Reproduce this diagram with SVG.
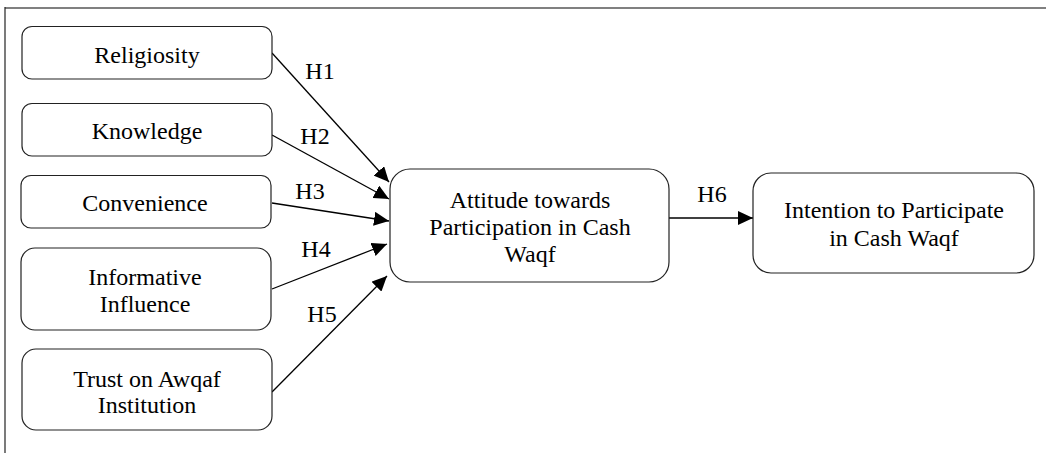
<svg xmlns="http://www.w3.org/2000/svg" width="1046" height="453" viewBox="0 0 1046 453">
<style>
.box{fill:#fff;stroke:#222;stroke-width:1.2}
.t{font-family:"Liberation Serif","Times New Roman",serif;font-size:24px;fill:#000;text-anchor:middle}
.c{stroke:#000;stroke-width:1.3;fill:none;marker-end:url(#ah)}
</style>
<defs>
<marker id="ah" markerUnits="userSpaceOnUse" markerWidth="16" markerHeight="14" refX="15" refY="7" orient="auto">
<path d="M0,0 L15,7 L0,14 z" fill="#000"/>
</marker>
</defs>
<rect width="1046" height="453" fill="#fff"/>
<line x1="5" y1="8" x2="1046" y2="8" stroke="#808080" stroke-width="2"/>
<line x1="5" y1="7" x2="5" y2="453" stroke="#222" stroke-width="1.2"/>
<g id="connectors">
<line class="c" x1="272" y1="53" x2="389" y2="182"/>
<line class="c" x1="272" y1="135" x2="389" y2="199"/>
<line class="c" x1="272" y1="203" x2="389" y2="221"/>
<line class="c" x1="272" y1="289" x2="387" y2="244"/>
<line class="c" x1="272" y1="392" x2="387" y2="276"/>
<line class="c" x1="669" y1="218" x2="753" y2="218"/>
<text class="t" x="320" y="79">H1</text>
<text class="t" x="315" y="144">H2</text>
<text class="t" x="310" y="199">H3</text>
<text class="t" x="316" y="257">H4</text>
<text class="t" x="322" y="322">H5</text>
<text class="t" x="712" y="202">H6</text>
</g>
<g id="religiosity">
<rect class="box" x="22" y="26.5" width="250" height="52.5" rx="10"/>
<text class="t" x="147" y="63">Religiosity</text>
</g>
<g id="knowledge">
<rect class="box" x="22" y="103.5" width="250" height="52.5" rx="10"/>
<text class="t" x="147" y="139">Knowledge</text>
</g>
<g id="convenience">
<rect class="box" x="21" y="175.5" width="250" height="52.5" rx="10"/>
<text class="t" x="145" y="211">Convenience</text>
</g>
<g id="informative">
<rect class="box" x="21" y="248" width="250" height="82" rx="14"/>
<text class="t" x="145" y="285">Informative</text>
<text class="t" x="145" y="312">Influence</text>
</g>
<g id="trust">
<rect class="box" x="22" y="349" width="250" height="81" rx="14"/>
<text class="t" x="147" y="387">Trust on Awqaf</text>
<text class="t" x="147" y="413">Institution</text>
</g>
<g id="attitude">
<rect class="box" x="390" y="169" width="279" height="113" rx="20"/>
<text class="t" x="530" y="208">Attitude towards</text>
<text class="t" x="530" y="235">Participation in Cash</text>
<text class="t" x="530" y="262">Waqf</text>
</g>
<g id="intention">
<rect class="box" x="753" y="173" width="281" height="100" rx="18"/>
<text class="t" x="894" y="218">Intention to Participate</text>
<text class="t" x="894" y="246">in Cash Waqf</text>
</g>
</svg>
